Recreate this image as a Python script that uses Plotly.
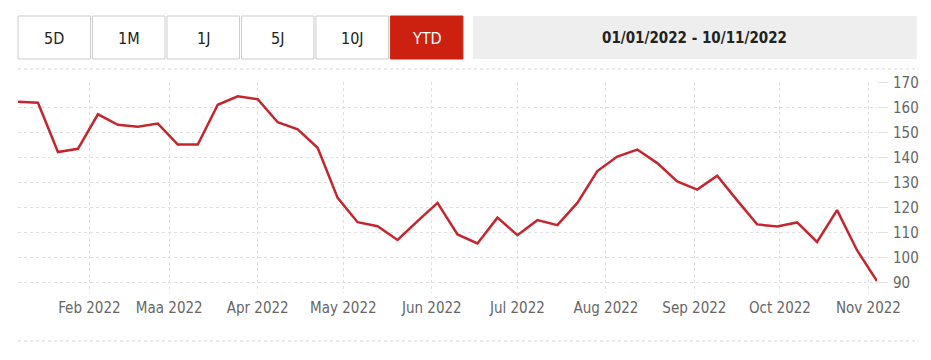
import plotly.graph_objects as go

# ---- data ----
dates = [
    "2022-01-07", "2022-01-14", "2022-01-21", "2022-01-28",
    "2022-02-04", "2022-02-11", "2022-02-18", "2022-02-25",
    "2022-03-04", "2022-03-11", "2022-03-18", "2022-03-25",
    "2022-04-01", "2022-04-08", "2022-04-15", "2022-04-22", "2022-04-29",
    "2022-05-06", "2022-05-13", "2022-05-20", "2022-05-27",
    "2022-06-03", "2022-06-10", "2022-06-17", "2022-06-24",
    "2022-07-01", "2022-07-08", "2022-07-15", "2022-07-22", "2022-07-29",
    "2022-08-05", "2022-08-12", "2022-08-19", "2022-08-26",
    "2022-09-02", "2022-09-09", "2022-09-16", "2022-09-23", "2022-09-30",
    "2022-10-07", "2022-10-14", "2022-10-21", "2022-10-28",
    "2022-11-04",
]
values = [
    162.4, 162.0, 142.3, 143.6,
    157.4, 153.2, 152.4, 153.7,
    145.3, 145.3, 161.2, 164.6,
    163.4, 154.2, 151.4, 144.0, 124.0,
    114.3, 112.7, 107.2, 114.7,
    122.0, 109.4, 105.8, 116.1,
    109.1, 115.1, 113.1, 122.0, 134.7,
    140.5, 143.3, 137.9, 130.6,
    127.3, 132.9, 123.0, 113.4, 112.6,
    114.2, 106.4, 119.1, 103.1,
    90.8,
]
x_tick_vals = ["2022-02-01", "2022-03-01", "2022-04-01", "2022-05-01", "2022-06-01",
               "2022-07-01", "2022-08-01", "2022-09-01", "2022-10-01", "2022-11-01"]
x_tick_text = ["Feb 2022", "Maa 2022", "Apr 2022", "May 2022", "Jun 2022",
               "Jul 2022", "Aug 2022", "Sep 2022", "Oct 2022", "Nov 2022"]
y_tick_vals = [90, 100, 110, 120, 130, 140, 150, 160, 170]
buttons = ["5D", "1M", "1J", "5J", "10J", "YTD"]
active_button = "YTD"
date_range_text = "01/01/2022 - 10/11/2022"

# ---- layout helpers (pixel -> paper) ----
W, H = 931, 360
L, R, T, B = 18, 883, 82, 293
def px(x):
    return (x - L) / (R - L)
def py(y):
    return (B - y) / (B - T)

FONT = "Liberation Sans Narrow, DejaVu Sans Condensed, Arial Narrow, sans-serif"
RED = "#c4262e"

fig = go.Figure()
fig.add_trace(go.Scatter(
    x=dates, y=values, mode="lines",
    line=dict(color=RED, width=2.5),
    hoverinfo="x+y", showlegend=False,
))

shapes = []
annotations = []

# range buttons
btn_left = 18
btn_w = 73
btn_gap = 2
for i, lab in enumerate(buttons):
    x0 = btn_left + i * (btn_w + btn_gap)
    x1 = x0 + btn_w
    active = lab == active_button
    shapes.append(dict(
        type="rect", xref="paper", yref="paper",
        x0=px(x0), x1=px(x1), y0=py(59), y1=py(16),
        fillcolor="#cc2011" if active else "#ffffff",
        line=dict(color="#cc2011" if active else "#cccccc", width=1),
        layer="above",
    ))
    annotations.append(dict(
        xref="paper", yref="paper", x=px((x0 + x1) / 2), y=py(38),
        text=lab, showarrow=False, xanchor="center", yanchor="middle",
        font=dict(family=FONT, size=16, color="#ffffff" if active else "#222222"),
    ))

# date range box
shapes.append(dict(
    type="rect", xref="paper", yref="paper",
    x0=px(476), x1=px(923), y0=py(59), y1=py(16),
    fillcolor="#eeeeee", line=dict(width=0), layer="above",
))
annotations.append(dict(
    xref="paper", yref="paper", x=px((476 + 923) / 2), y=py(38),
    text="<b>" + date_range_text + "</b>", showarrow=False,
    xanchor="center", yanchor="middle",
    font=dict(family=FONT, size=15, color="#222222"),
))

# dashed separators
for yy in (69, 341):
    shapes.append(dict(
        type="line", xref="paper", yref="paper",
        x0=px(18), x1=px(925), y0=py(yy), y1=py(yy),
        line=dict(color="#d8d8d8", width=1, dash="dot"),
    ))

fig.update_layout(
    width=W, height=H,
    margin=dict(l=L, r=W - R, t=T, b=H - B, pad=0),
    paper_bgcolor="#ffffff", plot_bgcolor="#ffffff",
    font=dict(family=FONT, color="#666666", size=15),
    shapes=shapes, annotations=annotations,
    hovermode="x",
)
fig.update_xaxes(
    type="date",
    range=[dates[0], dates[-1]],
    tickvals=x_tick_vals, ticktext=x_tick_text,
    showgrid=True, gridcolor="#e0e0e0", griddash="dot", gridwidth=1,
    ticks="", showline=False, zeroline=False,
    ticklabelstandoff=4,
    tickfont=dict(family=FONT, size=15, color="#666666"),
    fixedrange=True,
)
fig.update_yaxes(
    side="right",
    range=[86, 170.3],
    tickvals=y_tick_vals,
    showgrid=True, gridcolor="#e0e0e0", griddash="dot", gridwidth=1,
    ticks="outside", ticklen=10, tickcolor="#e0e0e0", tickwidth=1,
    showline=False, zeroline=False,
    ticklabelstandoff=2,
    tickfont=dict(family=FONT, size=15, color="#666666"),
    fixedrange=True,
)

fig.write_html("out.html", config={"displayModeBar": False})
